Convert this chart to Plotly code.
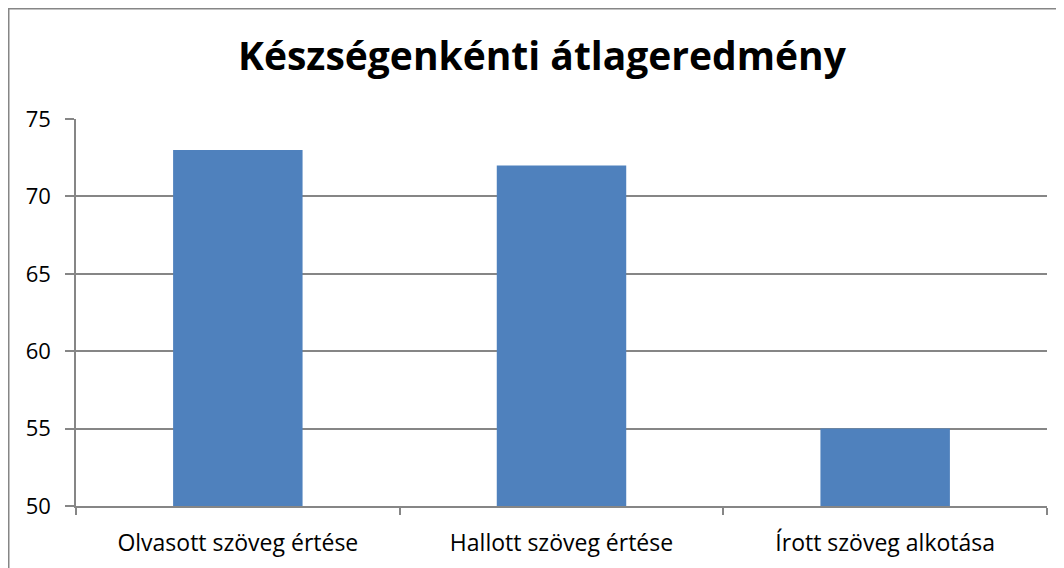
import plotly.graph_objects as go

categories = ["Olvasott szöveg értése", "Hallott szöveg értése", "Írott szöveg alkotása"]
values = [73, 72, 55]
y_ticks = [50, 55, 60, 65, 70, 75]
title_text = "Készségenkénti átlageredmény"

# page offsets by the default 8px body margin
OFF = 8
W, H = 1064 - OFF, 568 - OFF
L, R, T, B = 76 - OFF, 1047 - OFF, 119 - OFF, 506 - OFF

fig = go.Figure(go.Bar(x=categories, y=values, marker=dict(color="#4F81BD", line=dict(width=0)),
                       hoverinfo="x+y"))

fig.update_layout(
    width=W, height=H,
    margin=dict(l=L, r=W - R, t=T, b=H - B, pad=0, autoexpand=False),
    paper_bgcolor="white", plot_bgcolor="white",
    bargap=0.6,
    showlegend=False,
    font=dict(family="Open Sans, sans-serif", color="black", size=20),
    title=dict(text="<b>" + title_text + "</b>", x=534 / W, xanchor="center",
               y=1 - 48 / H, yanchor="middle", yref="container",
               font=dict(size=39, family="Open Sans, sans-serif", color="black")),
    xaxis=dict(showline=True, linecolor="#868686", linewidth=1.5, automargin=False,
               ticks="outside", ticklen=7, tickcolor="#868686", tickwidth=1.5,
               tickson="boundaries", showgrid=False, fixedrange=True,
               tickfont=dict(size=23), ticklabelstandoff=16),
    yaxis=dict(range=[50, 75], tickvals=y_ticks, showline=True, linecolor="#868686", linewidth=1.5,
               ticks="outside", ticklen=9, tickcolor="#868686", tickwidth=1.5, automargin=False,
               showgrid=True, gridcolor="#868686", gridwidth=1.5, zeroline=False,
               fixedrange=True, tickfont=dict(size=22), ticklabelstandoff=10),
    shapes=[dict(type="rect", xref="paper", yref="paper",
                 x0=(0.75 - L) / (R - L), x1=1.2, y0=-0.5, y1=(B - 0.75) / (B - T),
                 line=dict(color="#868686", width=1.5), layer="below")],
)

fig.write_html("out.html")
